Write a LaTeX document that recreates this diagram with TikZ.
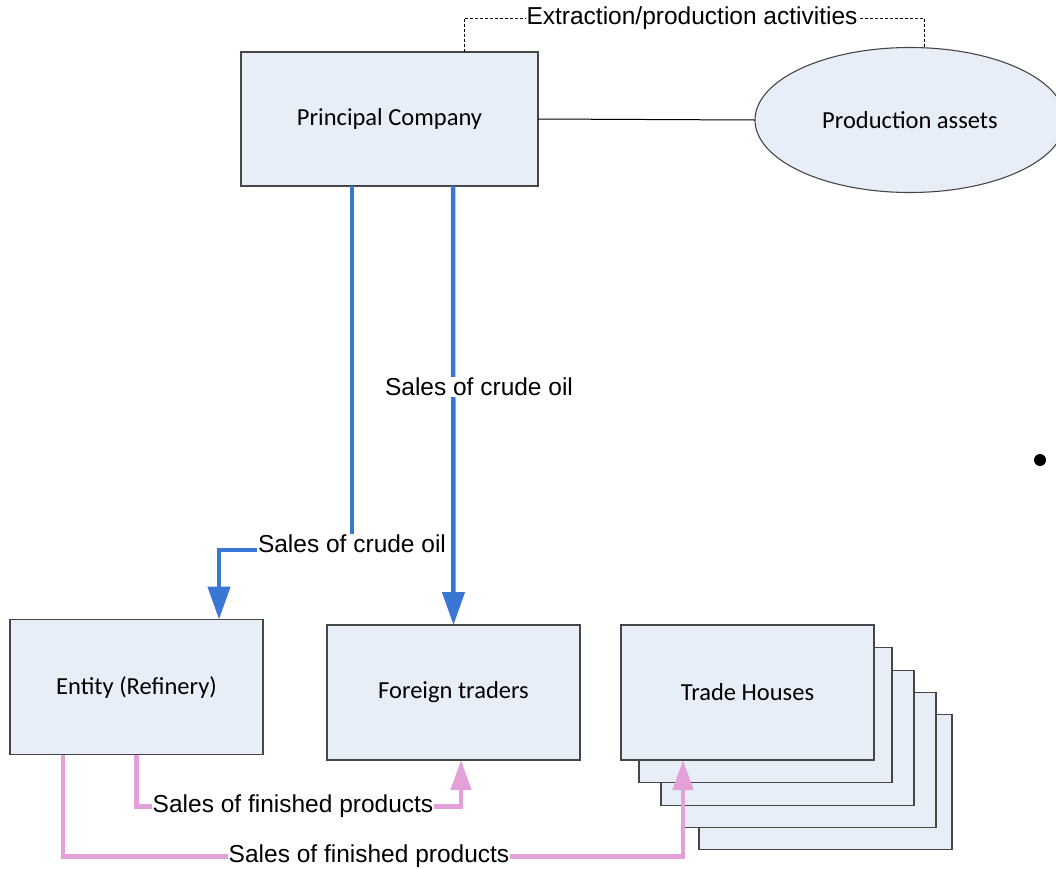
\documentclass[tikz,border=0pt]{standalone}
\usepackage{fontspec}
\setmainfont{Carlito}
\newfontfamily\arialf{Liberation Sans}
\usetikzlibrary{arrows.meta,shapes.geometric}
\definecolor{boxfill}{RGB}{232,238,247}
\definecolor{boxline}{RGB}{70,70,70}
\definecolor{blueflow}{RGB}{58,118,212}
\definecolor{pinkflow}{RGB}{228,160,216}
\tikzset{
  entity/.style={draw=boxline, line width=1.1pt, fill=boxfill, inner sep=0pt, outer sep=0pt,
    minimum width=253pt, minimum height=135pt, font=\fontsize{24.5}{28}\selectfont},
  blueflow/.style={draw=blueflow, line width=4.5pt, -{Triangle[width=22pt,length=33pt]}},
  pinkflow/.style={draw=pinkflow, line width=4.5pt, -{Triangle[width=20pt,length=30pt]}},
  flowlabel/.style={fill=white, inner sep=1pt, font=\arialf\fontsize{24.5}{28}\selectfont},
}
\begin{document}
\begin{tikzpicture}[x=1pt,y=-1pt]
\useasboundingbox (0,0) rectangle (1056,868);
% nodes
\node[entity, minimum width=297pt, minimum height=134pt] (pc) at (389.5,119) {Principal Company};
\node[draw=boxline, line width=1.1pt, fill=boxfill, ellipse, inner sep=0pt, outer sep=0pt,
  minimum width=310pt, minimum height=145pt, font=\fontsize{24.5}{28}\selectfont] (pa) at (910,120) {Production assets};
\node[entity] (ent) at (136.5,687) {Entity (Refinery)};
\node[entity] (ft) at (453.5,692.5) {Foreign traders};
% stacked trade houses
\node[entity] (th5) at (825.5,782) {};
\node[entity] (th4) at (809.5,760) {};
\node[entity] (th3) at (787.5,738) {};
\node[entity] (th2) at (765.5,715) {};
\node[entity] (th) at (747.5,692.5) {Trade Houses};
% connectors top
\draw[line width=1pt] (pc.east) -- (pa.west);
\draw[line width=0.8pt, dash pattern=on 3pt off 2pt] ([xshift=74.5pt]pc.north) -- ++(0,-34) -| ([xshift=14pt]pa.north);
\node[flowlabel] (ex) at (692,18) {Extraction/production activities};
% blue flows
\draw[blueflow] ([xshift=-37.5pt]pc.south) -- ++(0,364) -| ([xshift=82.5pt]ent.north);
\node[flowlabel] (l1) at (352,544) {Sales of crude oil};
\draw[blueflow] ([xshift=63.5pt]pc.south) -- (ft.north);
\node[flowlabel] (l2) at (479,387) {Sales of crude oil};
% pink flows
\draw[pinkflow] (ent.south) -- ++(0,52) -| ([xshift=7.5pt]ft.south);
\node[flowlabel] (l3) at (293,806) {Sales of finished products};
\draw[pinkflow] ([xshift=-73.5pt]ent.south) -- ++(0,102) -| ([xshift=-64.5pt]th.south);
\node[flowlabel] (l4) at (369,856) {Sales of finished products};
% bullet
\fill (1040,460) circle (6pt);
\end{tikzpicture}
\end{document}
